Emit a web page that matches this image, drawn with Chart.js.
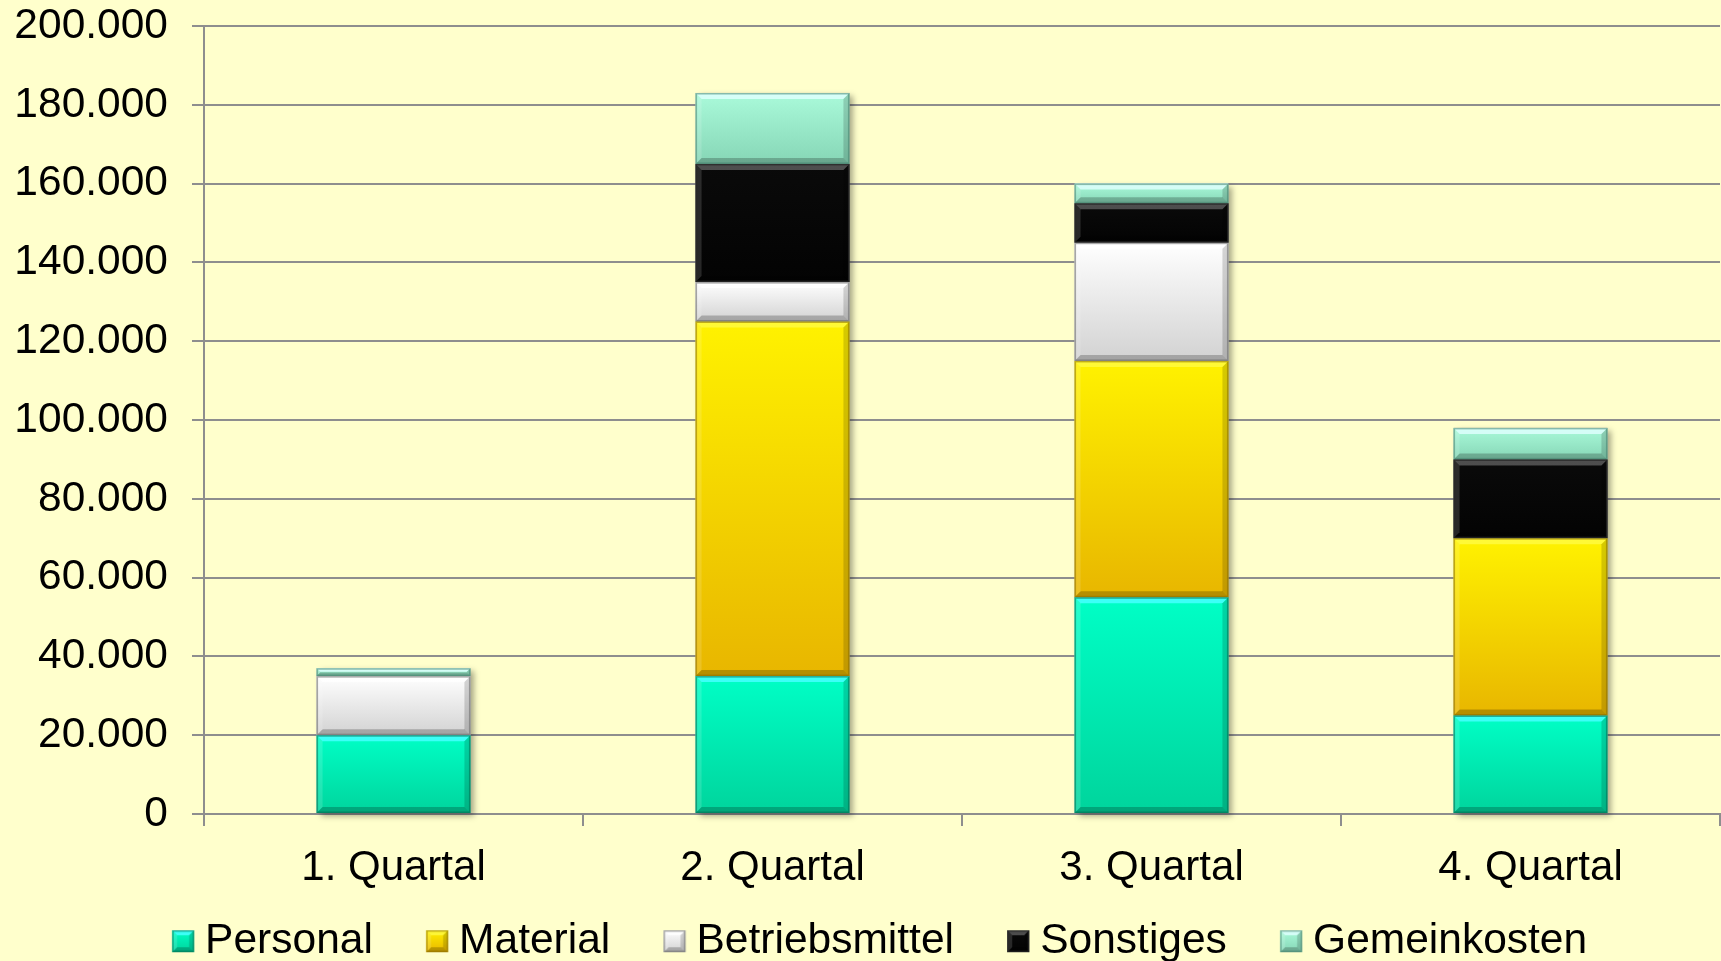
<!DOCTYPE html>
<html><head><meta charset="utf-8">
<script src="https://cdn.jsdelivr.net/npm/chart.js@4/dist/chart.umd.min.js"></script>
<style>html,body{margin:0;padding:0;background:#FFFFCC;}#wrap{width:1721px;height:961px;}canvas{display:block;}</style>
</head><body><div id="wrap"><canvas id="c" width="1721" height="961"></canvas></div>
<script>
// ---- data ----
const categories = ['1. Quartal', '2. Quartal', '3. Quartal', '4. Quartal'];
const seriesNames = ['Personal', 'Material', 'Betriebsmittel', 'Sonstiges', 'Gemeinkosten'];
const personal       = [20000, 35000, 55000, 25000];
const material       = [0, 90000, 60000, 45000];
const betriebsmittel = [15000, 10000, 30000, 0];
const sonstiges      = [0, 30000, 10000, 20000];
const gemeinkosten   = [2000, 18000, 5000, 8000];
const yTickValues = [0, 20000, 40000, 60000, 80000, 100000, 120000, 140000, 160000, 180000, 200000];
const yTickLabels = ['0', '20.000', '40.000', '60.000', '80.000', '100.000', '120.000', '140.000', '160.000', '180.000', '200.000'];
const seriesValues = [personal, material, betriebsmittel, sonstiges, gemeinkosten];

// ---- styles ----
const fillTop    = ['#00FFC6', '#FFF200', '#FFFFFF', '#0A0A0A', '#AAFADA'];
const fillBottom = ['#00D49C', '#E8B600', '#D2D2D2', '#030303', '#86D6B6'];
const fillMid    = ['#00EEB4', '#F5D400', '#EAEAEA', '#060606', '#98E8C8'];
const edgeCol    = ['rgba(0,110,80,0.55)', 'rgba(140,110,0,0.55)', 'rgba(110,110,110,0.6)', 'rgba(40,40,40,0.8)', 'rgba(70,130,110,0.55)'];
const topLight   = ['rgba(70,255,255,0.85)', 'rgba(255,255,90,0.6)', 'rgba(255,255,255,0.8)', 'rgba(255,255,255,0.28)', 'rgba(225,255,255,0.8)'];
const FONT = "'Liberation Sans', Arial, sans-serif";
const gridCol = '#8E8E8E';

function poly(ctx, pts, color) {
  ctx.beginPath(); ctx.moveTo(pts[0][0], pts[0][1]);
  for (let i = 1; i < pts.length; i++) ctx.lineTo(pts[i][0], pts[i][1]);
  ctx.closePath(); ctx.fillStyle = color; ctx.fill();
}
function bevel(ctx, x1, y1, x2, y2, di, s, fill) {
  const w = x2 - x1, h = y2 - y1;
  if (h < 0.5 || w < 0.5) return;
  s = Math.min(s, h / 2.2, w / 2.2);
  if (fill) {
    const g = ctx.createLinearGradient(0, y1, 0, y2);
    g.addColorStop(0, fillTop[di]); g.addColorStop(1, fillBottom[di]);
    ctx.fillStyle = g; ctx.fillRect(x1, y1, w, h);
  }
  poly(ctx, [[x1, y1], [x2, y1], [x2 - s, y1 + s], [x1 + s, y1 + s]], topLight[di]);
  poly(ctx, [[x1, y2], [x2, y2], [x2 - s, y2 - s], [x1 + s, y2 - s]], 'rgba(0,0,0,0.22)');
  poly(ctx, [[x1, y1], [x1 + s, y1 + s], [x1 + s, y2 - s], [x1, y2]], 'rgba(255,255,255,0.14)');
  poly(ctx, [[x2, y1], [x2 - s, y1 + s], [x2 - s, y2 - s], [x2, y2]], 'rgba(0,0,0,0.16)');
  ctx.strokeStyle = edgeCol[di]; ctx.lineWidth = 1.5;
  ctx.strokeRect(x1 + 0.75, y1 + 0.75, w - 1.5, h - 1.5);
}

// legend icons (image point styles)
const LB_W = 38, LFONT = 42.5, LPAD = 27;
function makeIcon(di) {
  const W = 62, H = 24, c = document.createElement('canvas');
  c.width = W; c.height = H;
  const ctx = c.getContext('2d');
  const off = LB_W / 2 + LFONT / 2 - 33; // box left relative to image center
  const x1 = W / 2 + off, y1 = 1;
  bevel(ctx, x1, y1, x1 + 22, y1 + 22, di, 5, true);
  return c;
}
const icons = seriesNames.map((_, i) => makeIcon(i));

function barFill(di) {
  return (ctx) => {
    if (ctx.type !== 'data') return fillMid[di];
    const chart = ctx.chart, ys = chart.scales && chart.scales.y;
    if (!ys) return fillMid[di];
    let start = 0;
    for (let k = 0; k < di; k++) start += seriesValues[k][ctx.dataIndex];
    const end = start + seriesValues[di][ctx.dataIndex];
    const yT = ys.getPixelForValue(end), yB = ys.getPixelForValue(start);
    if (!(yB > yT) || !isFinite(yT)) return fillMid[di];
    const g = chart.ctx.createLinearGradient(0, yT, 0, yB);
    g.addColorStop(0, fillTop[di]); g.addColorStop(1, fillBottom[di]);
    return g;
  };
}

const bevelPlugin = {
  id: 'bevel',
  beforeDatasetsDraw(chart) {
    const ctx = chart.ctx;
    const m0 = chart.getDatasetMeta(0);
    m0.data.forEach((el, i) => {
      let top = el.base;
      chart.data.datasets.forEach((d, di) => {
        const e = chart.getDatasetMeta(di).data[i];
        if (e && Math.abs(e.base - e.y) > 0.5) top = Math.min(top, e.y);
      });
      const x1 = el.x - el.width / 2;
      ctx.save();
      ctx.shadowColor = 'rgba(0,0,0,0.35)'; ctx.shadowBlur = 6;
      ctx.shadowOffsetX = 4; ctx.shadowOffsetY = 3;
      ctx.fillStyle = '#999';
      ctx.fillRect(x1, top, el.width, el.base - top);
      ctx.restore();
    });
  },
  afterDatasetsDraw(chart) {
    const ctx = chart.ctx;
    ctx.save();
    chart.data.datasets.forEach((d, di) => {
      chart.getDatasetMeta(di).data.forEach(el => {
        const x1 = el.x - el.width / 2, x2 = el.x + el.width / 2;
        const y1 = Math.min(el.y, el.base), y2 = Math.max(el.y, el.base);
        bevel(ctx, x1, y1, x2, y2, di, 6, false);
      });
    });
    ctx.restore();
  }
};

const bgPlugin = {
  id: 'bg',
  beforeDraw(chart) {
    const ctx = chart.ctx; ctx.save();
    ctx.fillStyle = '#FFFFCC'; ctx.fillRect(0, 0, chart.width, chart.height); ctx.restore();
  }
};

const PAD_L = 13;
new Chart(document.getElementById('c'), {
  type: 'bar',
  data: {
    labels: categories,
    datasets: seriesNames.map((name, i) => ({
      label: name,
      data: seriesValues[i],
      backgroundColor: barFill(i),
      borderWidth: 0,
      barPercentage: 0.406,
      categoryPercentage: 1.0
    }))
  },
  options: {
    responsive: false,
    animation: false,
    devicePixelRatio: 1,
    layout: { padding: { top: 0, right: 1, left: PAD_L, bottom: 0 } },
    scales: {
      x: {
        stacked: true,
        grid: { display: true, drawOnChartArea: false, drawTicks: true, tickLength: 12, color: gridCol, lineWidth: 2, offset: true },
        border: { display: true, color: gridCol, width: 2 },
        ticks: { color: '#000', font: { family: FONT, size: 42 }, padding: 17 },
        afterFit(scale) { scale.height = 79; scale.paddingLeft = 0; scale.paddingRight = 0; }
      },
      y: {
        stacked: true,
        min: 0, max: 200000,
        grid: { color: gridCol, lineWidth: 2, tickLength: 12, drawTicks: true },
        border: { display: true, color: gridCol, width: 2 },
        ticks: {
          stepSize: 20000, color: '#000', font: { family: FONT, size: 42.5 }, padding: 24,
          callback: (v) => { const k = yTickValues.indexOf(v); return k >= 0 ? yTickLabels[k] : ''; }
        },
        afterFit(scale) { scale.width = 204 - PAD_L; scale.paddingTop = 26; scale.paddingBottom = 0; }
      }
    },
    plugins: {
      tooltip: { enabled: false },
      legend: {
        position: 'bottom',
        maxHeight: 68,
        labels: {
          usePointStyle: true, boxWidth: LB_W, boxHeight: LFONT, padding: LPAD,
          color: '#000', font: { family: FONT, size: LFONT },
          generateLabels(chart) {
            const items = Chart.defaults.plugins.legend.labels.generateLabels(chart);
            items.forEach((it, i) => { it.pointStyle = icons[i]; });
            return items;
          }
        }
      }
    }
  },
  plugins: [bgPlugin, bevelPlugin]
});
</script></body></html>
